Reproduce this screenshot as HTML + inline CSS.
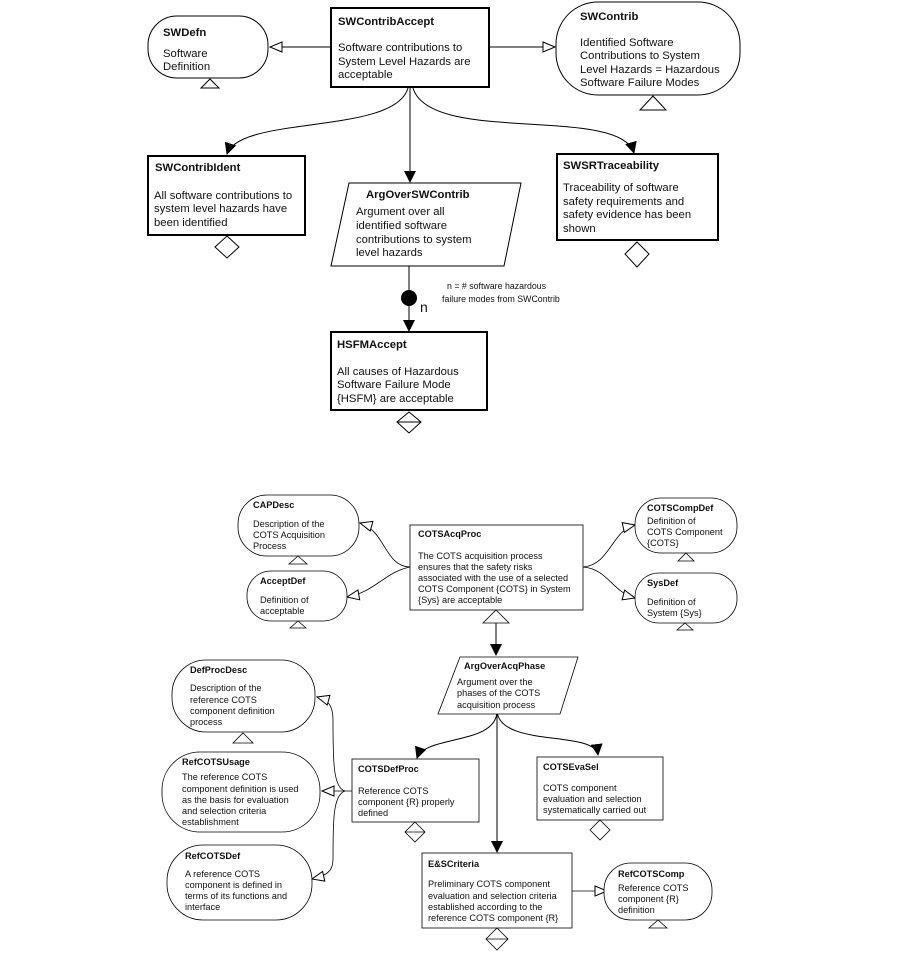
<!DOCTYPE html>
<html><head><meta charset="utf-8"><style>
html,body{margin:0;padding:0;background:#fff}
svg{display:block}
text{font-family:"Liberation Sans",sans-serif;fill:#111}
.t{font-size:11.3px}
.b{font-weight:bold}
.s{font-size:8.8px}
</style></head><body>
<svg width="901" height="955" viewBox="0 0 901 955" xmlns="http://www.w3.org/2000/svg">
<defs>
<marker id="f" markerWidth="12" markerHeight="12" refX="11" refY="6" orient="auto" markerUnits="userSpaceOnUse"><path d="M0,0 L12,6 L0,12 z" fill="#000"/></marker>
<marker id="h" markerWidth="14" markerHeight="12" refX="13" refY="6" orient="auto" markerUnits="userSpaceOnUse"><path d="M1,1 L13,6 L1,11 z" fill="#fff" stroke="#000"/></marker>
</defs>
<g fill="none" stroke="#000" stroke-width="1">
<line x1="331" y1="47" x2="270" y2="47" marker-end="url(#h)"/>
<line x1="489" y1="47" x2="555" y2="47" marker-end="url(#h)"/>
<path d="M408,88 C395,135 240,115 227,154" marker-end="url(#f)"/>
<line x1="410" y1="88" x2="410" y2="182" marker-end="url(#f)"/>
<path d="M413,88 C430,145 620,105 634,153" marker-end="url(#f)"/>
<line x1="409" y1="266" x2="409" y2="331" marker-end="url(#f)"/>
</g>
<circle cx="409" cy="298" r="8" fill="#000"/>
<g fill="#fff" stroke="#000">
<rect x="148" y="16" width="120" height="62" rx="29" stroke-width="1"/>
<rect x="331" y="8" width="158" height="79" stroke-width="2"/>
<rect x="556" y="2" width="184" height="93" rx="42"/>
<rect x="148" y="156" width="157" height="79" stroke-width="2"/>
<polygon points="349,183 521,183 504,266 331,266" stroke-width="1"/>
<rect x="557" y="154" width="161" height="86" stroke-width="2"/>
<rect x="331" y="332" width="156" height="78" stroke-width="2"/>
<polygon points="210,79 219,88 201,88"/>
<polygon points="653,96 666,110 640,110"/>
<polygon points="227,236 239,247 227,258 215,247"/>
<polygon points="637,242 649,254 637,267 625,254"/>
<polygon points="409,412 421,422 409,433 397,422"/>
</g>
<line x1="397" y1="422" x2="421" y2="422" stroke="#000"/>
<g class="t">
<text x="163" y="36" class="b">SWDefn</text>
<text x="163" y="57">Software</text><text x="163" y="70">Definition</text>
<text x="338" y="25" class="b">SWContribAccept</text>
<text x="338" y="51">Software contributions to</text><text x="338" y="65">System Level Hazards are</text><text x="338" y="78">acceptable</text>
<text x="580" y="20" class="b">SWContrib</text>
<text x="580" y="46">Identified Software</text><text x="580" y="59">Contributions to System</text><text x="580" y="73">Level Hazards = Hazardous</text><text x="580" y="86">Software Failure Modes</text>
<text x="155" y="171" class="b">SWContribIdent</text>
<text x="154" y="199">All software contributions to</text><text x="154" y="212">system level hazards have</text><text x="154" y="226">been identified</text>
<text x="366" y="198" class="b">ArgOverSWContrib</text>
<text x="356" y="215">Argument over all</text><text x="356" y="229">identified software</text><text x="356" y="243">contributions to system</text><text x="356" y="256">level hazards</text>
<text x="563" y="169" class="b">SWSRTraceability</text>
<text x="563" y="191">Traceability of software</text><text x="563" y="205">safety requirements and</text><text x="563" y="218">safety evidence has been</text><text x="563" y="232">shown</text>
<text x="337" y="348" class="b">HSFMAccept</text>
<text x="337" y="375">All causes of Hazardous</text><text x="337" y="388">Software Failure Mode</text><text x="337" y="402">{HSFM} are acceptable</text>
<text x="420" y="312" style="font-size:14px">n</text>
</g>
<text x="447" y="289" class="s">n =  # software hazardous</text>
<text x="442" y="302" class="s">failure modes from SWContrib</text>

<g fill="none" stroke="#000" stroke-width="0.8">
<path d="M410,567 C385,567 385,530 360,523" marker-end="url(#h)"/>
<path d="M410,567 C385,572 375,592 347,597" marker-end="url(#h)"/>
<path d="M583,567 C610,565 612,530 635,525" marker-end="url(#h)"/>
<path d="M583,567 C608,569 612,592 635,598" marker-end="url(#h)"/>
<line x1="496" y1="623" x2="496" y2="655" marker-end="url(#f)" stroke-width="1"/>
<path d="M497,711 C497,745 425,735 417,758" marker-end="url(#f)" stroke-width="1"/>
<path d="M497,711 C500,748 595,730 598,755" marker-end="url(#f)" stroke-width="1"/>
<line x1="497" y1="711" x2="497" y2="852" marker-end="url(#f)" stroke-width="1"/>
<line x1="352" y1="791" x2="322" y2="791" marker-end="url(#h)"/>
<path d="M345,791 C333,788 333,760 333,720 C333,705 328,700 317,697" marker-end="url(#h)"/>
<path d="M345,791 C333,795 333,820 333,860 C333,872 325,876 312,879" marker-end="url(#h)"/>
<line x1="572" y1="891" x2="607" y2="891" marker-end="url(#h)"/>
</g>
<g fill="#fff" stroke="#000" stroke-width="0.8">
<rect x="238" y="495" width="121" height="61" rx="29"/>
<rect x="247" y="571" width="100" height="50" rx="24"/>
<rect x="410" y="525" width="173" height="85"/>
<rect x="635" y="498" width="102" height="55" rx="26"/>
<rect x="635" y="573" width="102" height="50" rx="24"/>
<polygon points="460,657 578,657 560,714 438,714"/>
<rect x="172" y="660" width="143" height="72" rx="34"/>
<rect x="162" y="752" width="158" height="80" rx="38"/>
<rect x="167" y="845" width="145" height="75" rx="36"/>
<rect x="352" y="759" width="127" height="63"/>
<rect x="537" y="757" width="126" height="63"/>
<rect x="422" y="853" width="150" height="75"/>
<rect x="604" y="863" width="108" height="57" rx="27"/>
<polygon points="298,556 307,564 289,564"/>
<polygon points="298,621 306,628 290,628"/>
<polygon points="496,610 509,623 483,623"/>
<polygon points="686,553 694,561 678,561"/>
<polygon points="685,623 693,630 677,630"/>
<polygon points="243,733 253,743 233,743"/>
<polygon points="415,822 425,832 415,842 405,832"/>
<polygon points="600,820 610,830 600,840 590,830"/>
<polygon points="497,928 508,939 497,950 486,939"/>
<polygon points="658,920 667,928 649,928"/>
</g>
<line x1="405" y1="832" x2="425" y2="832" stroke="#000" stroke-width="0.8"/>
<line x1="486" y1="939" x2="508" y2="939" stroke="#000" stroke-width="0.8"/>
<g style="font-size:9.2px">
<text x="253" y="508" class="b">CAPDesc</text>
<text x="253" y="527">Description of the</text><text x="253" y="538">COTS Acquisition</text><text x="253" y="549">Process</text>
<text x="260" y="584" class="b">AcceptDef</text>
<text x="260" y="603">Definition of</text><text x="260" y="614">acceptable</text>
<text x="418" y="537" class="b">COTSAcqProc</text>
<text x="418" y="559">The COTS acquisition process</text><text x="418" y="570">ensures that the safety risks</text><text x="418" y="581">associated with the use of a selected</text><text x="418" y="592">COTS Component {COTS} in System</text><text x="418" y="603">{Sys} are acceptable</text>
<text x="647" y="511" class="b">COTSCompDef</text>
<text x="647" y="524">Definition of</text><text x="647" y="535">COTS Component</text><text x="647" y="546">{COTS}</text>
<text x="647" y="586" class="b">SysDef</text>
<text x="647" y="605">Definition of</text><text x="647" y="616">System {Sys}</text>
<text x="464" y="669" class="b">ArgOverAcqPhase</text>
<text x="457" y="685">Argument over the</text><text x="457" y="696">phases of the COTS</text><text x="457" y="708">acquisition process</text>
<text x="190" y="673" class="b">DefProcDesc</text>
<text x="190" y="691">Description of the</text><text x="190" y="703">reference COTS</text><text x="190" y="714">component definition</text><text x="190" y="725">process</text>
<text x="182" y="765" class="b">RefCOTSUsage</text>
<text x="182" y="780">The reference COTS</text><text x="182" y="792">component definition is used</text><text x="182" y="803">as the basis for evaluation</text><text x="182" y="814">and selection criteria</text><text x="182" y="825">establishment</text>
<text x="185" y="859" class="b">RefCOTSDef</text>
<text x="185" y="877">A reference COTS</text><text x="185" y="888">component is defined in</text><text x="185" y="899">terms of its functions and</text><text x="185" y="910">interface</text>
<text x="358" y="772" class="b">COTSDefProc</text>
<text x="358" y="794">Reference COTS</text><text x="358" y="805">component {R} properly</text><text x="358" y="816">defined</text>
<text x="543" y="770" class="b">COTSEvaSel</text>
<text x="543" y="791">COTS component</text><text x="543" y="802">evaluation and selection</text><text x="543" y="813">systematically carried out</text>
<text x="428" y="867" class="b">E&amp;SCriteria</text>
<text x="428" y="887">Preliminary COTS component</text><text x="428" y="899">evaluation and selection criteria</text><text x="428" y="910">established according to the</text><text x="428" y="921">reference COTS component {R}</text>
<text x="618" y="877" class="b">RefCOTSComp</text>
<text x="618" y="891">Reference COTS</text><text x="618" y="902">component {R}</text><text x="618" y="913">definition</text>
</g>
</svg>
</body></html>
